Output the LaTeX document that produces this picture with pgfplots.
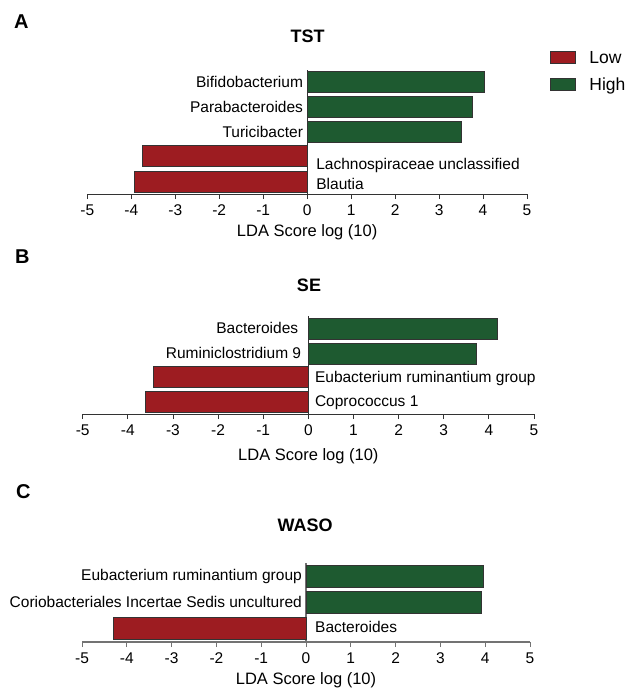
\documentclass[border=0pt]{standalone}
\usepackage{pgfplots}
\pgfplotsset{compat=1.18}
\usepackage{fontspec}
\setmainfont{Liberation Sans}
\definecolor{lowred}{RGB}{157,28,33}
\definecolor{highgreen}{RGB}{30,90,48}
\pgfplotsset{
  lefse/.style={
    scale only axis,
    anchor=south west,
    xmin=-5, xmax=5,
    axis x line=bottom,
    axis y line=middle,
    axis line style={-, draw=black!80, line width=0.8pt},
    xtick={-5,-4,...,5},
    ytick=\empty,
    tick align=outside,
    major tick length=5pt,
    x tick style={draw=black!80, line width=0.8pt},
    /pgf/number format/assume math mode=true,
    xticklabel style={font=\fontsize{15.5}{18}\selectfont, inner sep=0pt, anchor=center, yshift=-11.5pt},
    xlabel={LDA Score log (10)},
    xlabel style={font=\fontsize{16.5}{19}\selectfont, at={(axis description cs:0.5,0)}, anchor=center, inner sep=0pt},
    clip=false,
  },
  lowbar/.style={xbar, bar shift=0pt, fill=lowred, draw=black!80, line width=0.8pt,
    legend image code/.code={\draw[fill=lowred, draw=black!80, line width=0.8pt] (0pt,-6pt) rectangle (25pt,6pt);}},
  highbar/.style={xbar, bar shift=0pt, fill=highgreen, draw=black!80, line width=0.8pt,
    legend image code/.code={\draw[fill=highgreen, draw=black!80, line width=0.8pt] (0pt,-6pt) rectangle (25pt,6pt);}},
}
\newcommand{\lab}{\fontsize{15.5}{18}\selectfont}
\begin{document}
\begin{tikzpicture}
\path[use as bounding box] (0pt,0pt) rectangle (635pt,-690pt);
% ---------------- Panel A
\begin{axis}[lefse,
  at={(87.3pt,-194pt)}, width=439.7pt, height=124pt,
  ymin=-194, ymax=-70,
  xlabel style={yshift=-38.7pt},
  legend style={at={(axis description cs:1.0514,1.1565)}, anchor=north west, draw=none, fill=none,
    inner sep=0pt, outer sep=0pt, row sep=14.2pt, column sep=14pt,
    nodes={inner sep=0pt, text height=12.5pt, text depth=0pt, font=\fontsize{17.5}{20}\selectfont},
    cells={anchor=west}},
]
\addplot[lowbar, bar width=21pt] coordinates {(-3.75,-156.3) (-3.92,-181.7)};
\addlegendentry{Low}
\addplot[highbar, bar width=21pt] coordinates {(4.03,-81.7) (3.75,-106.8) (3.50,-131.8)};
\addlegendentry{High}
\node[anchor=east, inner sep=0pt, font=\lab] at (axis cs:0,-81.7) [xshift=-4pt] {Bifidobacterium};
\node[anchor=east, inner sep=0pt, font=\lab] at (axis cs:0,-106.8) [xshift=-4pt] {Parabacteroides};
\node[anchor=east, inner sep=0pt, font=\lab] at (axis cs:0,-131.8) [xshift=-4pt] {Turicibacter};
\node[anchor=west, inner sep=0pt, font=\lab] at (axis cs:0,-165.3) [xshift=9pt] {Lachnospiraceae unclassified};
\node[anchor=west, inner sep=0pt, font=\lab] at (axis cs:0,-184) [xshift=9pt] {Blautia};
\end{axis}
% ---------------- Panel B
\begin{axis}[lefse,
  at={(82.7pt,-414pt)}, width=451.3pt, height=98pt,
  ymin=-414, ymax=-316,
  xlabel style={yshift=-42.7pt},
]
\addplot[lowbar, bar width=21pt] coordinates {(-3.44,-377.2) (-3.60,-402.3)};
\addplot[highbar, bar width=21pt] coordinates {(4.20,-328.7) (3.73,-353.5)};
\node[anchor=east, inner sep=0pt, font=\lab] at (axis cs:0,-328) [xshift=-10pt] {Bacteroides};
\node[anchor=east, inner sep=0pt, font=\lab] at (axis cs:0,-353) [xshift=-7pt] {Ruminiclostridium 9};
\node[anchor=west, inner sep=0pt, font=\lab] at (axis cs:0,-378) [xshift=6.5pt] {Eubacterium ruminantium group};
\node[anchor=west, inner sep=0pt, font=\lab] at (axis cs:0,-402.3) [xshift=6.5pt] {Coprococcus 1};
\end{axis}
% ---------------- Panel C
\begin{axis}[lefse,
  at={(82pt,-642pt)}, width=448pt, height=79.3pt,
  ymin=-642, ymax=-562.7,
  axis line style={-, draw=black!55, line width=1.2pt},
  x tick style={draw=black!55, line width=1pt},
  xlabel style={yshift=-38pt},
]
\addplot[lowbar, bar width=22pt] coordinates {(-4.29,-628.8)};
\addplot[highbar, bar width=22pt] coordinates {(3.95,-576) (3.91,-602.5)};
\node[anchor=east, inner sep=0pt, font=\lab] at (axis cs:0,-576) [xshift=-4pt] {Eubacterium ruminantium group};
\node[anchor=east, inner sep=0pt, font=\lab] at (axis cs:0,-602) [xshift=-4pt] {Coriobacteriales Incertae Sedis uncultured};
\node[anchor=west, inner sep=0pt, font=\lab] at (axis cs:0,-627) [xshift=9pt] {Bacteroides};
\end{axis}
% ---------------- Panel letters and titles
\node[anchor=west, inner sep=0pt, font=\fontsize{20}{24}\selectfont\bfseries] at (14pt,-21.7pt) {A};
\node[anchor=west, inner sep=0pt, font=\fontsize{20}{24}\selectfont\bfseries] at (15pt,-257pt) {B};
\node[anchor=west, inner sep=0pt, font=\fontsize{20}{24}\selectfont\bfseries] at (16pt,-491.7pt) {C};
\node[inner sep=0pt, font=\fontsize{18}{22}\selectfont\bfseries] at (307.5pt,-36.7pt) {TST};
\node[inner sep=0pt, font=\fontsize{18}{22}\selectfont\bfseries] at (309pt,-285pt) {SE};
\node[inner sep=0pt, font=\fontsize{18}{22}\selectfont\bfseries] at (305pt,-525pt) {WASO};
\end{tikzpicture}
\end{document}
